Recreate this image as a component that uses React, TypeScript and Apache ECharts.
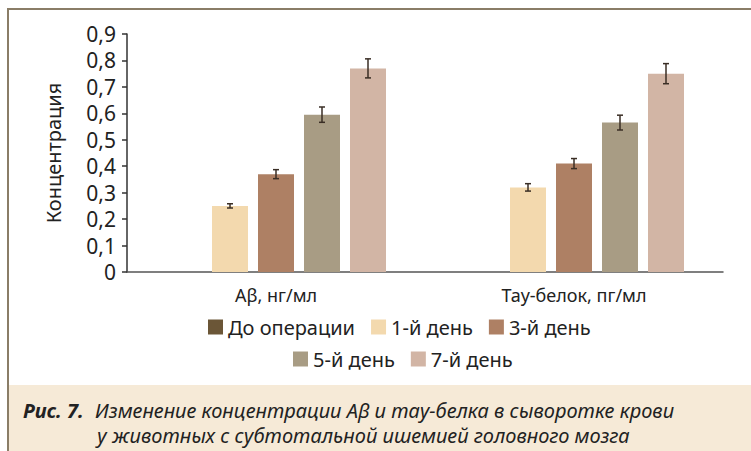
import React, { useEffect, useRef } from "react";
import * as echarts from "echarts";

const categories = ["Aβ, нг/мл", "Тау-белок, пг/мл"];
const seriesNames = ["До операции", "1-й день", "3-й день", "5-й день", "7-й день"];
const seriesColors = ["#6b5637", "#f3d9ae", "#ae8064", "#a89c84", "#d2b5a5"];
// mean values per group (Aβ, tau); no pre-op values are shown
const values: (number | null)[][] = [
  [null, null],
  [0.25, 0.32],
  [0.37, 0.41],
  [0.595, 0.565],
  [0.77, 0.75],
];
// half-width of the error bars
const errors: (number | null)[][] = [
  [null, null],
  [0.008, 0.014],
  [0.017, 0.019],
  [0.029, 0.028],
  [0.036, 0.038],
];
const yTicks = [0, 0.1, 0.2, 0.3, 0.4, 0.5, 0.6, 0.7, 0.8, 0.9];
const legendRow1 = ["До операции", "1-й день", "3-й день"];
const legendRow2 = ["5-й день", "7-й день"];
const captionBold = "Рис. 7.";
const captionLine1 = "Изменение концентрации Aβ и тау-белка в сыворотке крови";
const captionLine2 = "у животных с субтотальной ишемией головного мозга";

const BAR_W = 36;
const BAR_GAP = 10;
const FONT = "'Noto Sans', 'Open Sans', sans-serif";

export default function App() {
  const ref = useRef<HTMLDivElement>(null);

  useEffect(() => {
    if (!ref.current) return;
    const chart = echarts.init(ref.current, undefined, { renderer: "svg" });
    const n = seriesNames.length;

    const barSeries = seriesNames.map((name, i) => ({
      name,
      type: "bar",
      data: values[i],
      barWidth: BAR_W,
      barGap: `${(BAR_GAP / BAR_W) * 100}%`,
      itemStyle: { color: seriesColors[i] },
    }));

    const errorSeries = seriesNames.map((name, i) => ({
      name: name + " err",
      type: "custom",
      z: 5,
      data: values[i]
        .map((v, j) => (v == null ? null : [j, v, errors[i][j]]))
        .filter((d) => d != null),
      renderItem: (params: any, api: any) => {
        const c = api.value(0);
        const v = api.value(1);
        const e = api.value(2);
        const off = (i - (n - 1) / 2) * (BAR_W + BAR_GAP);
        const hi = api.coord([c, v + e]);
        const lo = api.coord([c, v - e]);
        const x = hi[0] + off;
        const cap = 3;
        const style = { stroke: "#3a2e25", lineWidth: 1.5 };
        return {
          type: "group",
          children: [
            { type: "line", shape: { x1: x, y1: hi[1], x2: x, y2: lo[1] }, style },
            { type: "line", shape: { x1: x - cap, y1: hi[1], x2: x + cap, y2: hi[1] }, style },
            { type: "line", shape: { x1: x - cap, y1: lo[1], x2: x + cap, y2: lo[1] }, style },
          ],
        };
      },
    }));

    const legendCommon = {
      orient: "horizontal",
      icon: "rect",
      itemWidth: 15,
      itemHeight: 15,
      itemGap: 16,
      textStyle: { fontFamily: FONT, fontSize: 20, color: "#222" },
      selectedMode: false,
    };

    const captionStyle = {
      fontFamily: FONT,
      fontSize: 20,
      fontStyle: "italic",
      fill: "#222",
      verticalAlign: "middle",
    };

    chart.setOption({
      animation: false,
      backgroundColor: "#ffffff",
      grid: { left: 127, right: 28, top: 34, bottom: 179, containLabel: false },
      legend: [
        { ...legendCommon, data: legendRow1, left: 203, top: 312 },
        { ...legendCommon, data: legendRow2, left: 288, top: 344 },
      ],
      xAxis: {
        type: "category",
        data: categories,
        axisTick: { show: false },
        axisLine: { lineStyle: { color: "#555", width: 1.5 } },
        axisLabel: { fontFamily: FONT, fontSize: 18, color: "#222", margin: 14 },
      },
      yAxis: {
        type: "value",
        min: yTicks[0],
        max: yTicks[yTicks.length - 1],
        interval: 0.1,
        name: "Концентрация",
        nameLocation: "middle",
        nameGap: 64,
        nameTextStyle: { fontFamily: FONT, fontSize: 20, color: "#222" },
        axisLine: { show: true, lineStyle: { color: "#333", width: 1.5 } },
        axisTick: { show: true, length: 5, lineStyle: { color: "#333", width: 1.5 } },
        splitLine: { show: false },
        axisLabel: {
          fontFamily: FONT,
          fontSize: 21,
          color: "#222",
          margin: 11,
          formatter: (v: number) => String(Math.round(v * 10) / 10).replace(".", ","),
        },
      },
      series: [...barSeries, ...errorSeries],
      graphic: [
        // frame lines
        { type: "rect", shape: { x: 7, y: 8, width: 744, height: 2 }, style: { fill: "#8a7d67" }, silent: true },
        { type: "rect", shape: { x: 7, y: 8, width: 2, height: 443 }, style: { fill: "#8a7d67" }, silent: true },
        // caption panel
        { type: "rect", shape: { x: 9, y: 385, width: 742, height: 66 }, style: { fill: "#f6ead7" }, silent: true, z: -1 },
        {
          type: "text",
          x: 23,
          y: 410,
          style: { ...captionStyle, text: captionBold, fontWeight: "bold" },
        },
        {
          type: "text",
          x: 95,
          y: 410,
          style: { ...captionStyle, text: captionLine1 },
        },
        {
          type: "text",
          x: 97,
          y: 435,
          style: { ...captionStyle, text: captionLine2 },
        },
      ],
    });

    return () => chart.dispose();
  }, []);

  return (
    <div
      ref={ref}
      style={{ position: "fixed", left: 0, top: 0, width: 751, height: 451 }}
    />
  );
}
